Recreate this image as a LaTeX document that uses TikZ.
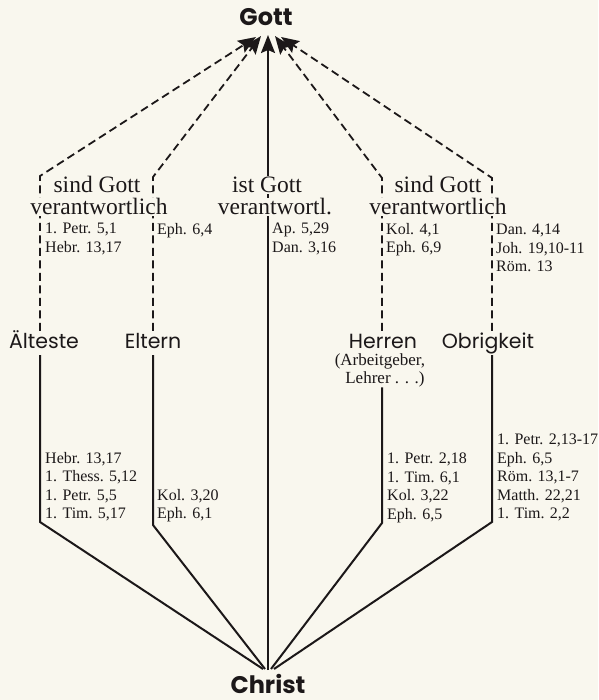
\documentclass[tikz,border=0pt]{standalone}
\usepackage{fontspec}
\setmainfont{Liberation Serif}
\newfontfamily\futura{Poppins}
\usetikzlibrary{arrows.meta,positioning}

\definecolor{paper}{HTML}{F9F7EE}
\definecolor{ink}{HTML}{1C1819}

\begin{document}
\begin{tikzpicture}
			[x=1pt, y=-1pt,
			pole/.style={font=\futura\bfseries\fontsize{24}{28}\selectfont, text=ink, inner sep=0pt},
			group/.style={font=\futura\fontsize{20.5}{23}\selectfont, text=ink, anchor=base, text height=14pt, text depth=4pt, inner xsep=1pt, inner ysep=3pt},
			note/.style={font=\fontsize{17}{19}\selectfont, text=ink, anchor=base, inner sep=0.5pt},
			duty/.style={font=\fontsize{23.5}{26}\selectfont, text=ink, anchor=base, inner sep=1pt},
			gap/.style={duty, fill=paper},
			refs/.style={font=\fontsize{16}{18.5}\selectfont, text=ink, align=left, anchor=north west, inner sep=0pt},
			head/.style={-{Stealth[length=18pt,width=14pt,inset=3pt]}},
			upline/.style={draw=ink, line width=1.8pt, dash pattern=on 8pt off 4.5pt, head},
			downline/.style={draw=ink, line width=2pt},]
          	\fill[paper] (0,0) rectangle (598,700);
          	\useasboundingbox (0,0) rectangle (598,700);

          	\node[pole] (Gott) at (266,17) {Gott};
          	\node[pole] (Christ) at (268,684) {Christ};

          	\node[group] (Aelteste) at (44,348) {Älteste};
          	\node[group] (Eltern) at (153,348) {Eltern};
          	\node[group, text height=16pt, text depth=0pt, inner ysep=1pt] (Herren) at (383,348) {Herren};
          	\node[note] (Arbeit) at (380,365) {(Arbeitgeber,};
          	\node[note] (Lehrer) at (385,383) {Lehrer . . .)};
          	\node[group] (Obrigkeit) at (488,348) {Obrigkeit};

          	% Knicke und Spitzen
          	\coordinate (k1) at (40,176); \coordinate (b1) at (40,522);
          	\coordinate (k2) at (153,177); \coordinate (b2) at (153,525);
          	\coordinate (k4) at (382,178); \coordinate (b4) at (382,523);
          	\coordinate (k5) at (492,178); \coordinate (b5) at (492,522);
          	\coordinate (g1) at (256,37); \coordinate (g2) at (261,36);
          	\coordinate (g3) at (268,35);
          	\coordinate (g4) at (275,36); \coordinate (g5) at (281,37);
          	\coordinate (h1) at (263,669); \coordinate (h2) at (265,669);
          	\coordinate (h3) at (268,670);
          	\coordinate (h4) at (271,669); \coordinate (h5) at (274,669);

          	\draw[upline] (Aelteste.north -| k1) -- (k1) -- (g1);
          	\draw[upline] (Eltern.north -| k2) -- (k2) -- (g2);
          	\draw[upline] (Herren.north -| k4) -- (k4) -- (g4);
          	\draw[upline] (Obrigkeit.north -| k5) -- (k5) -- (g5);
          	\draw[downline, head] (h3) -- (g3);

          	\draw[downline] (Aelteste.south -| b1) -- (b1) -- (h1);
          	\draw[downline] (Eltern.south -| b2) -- (b2) -- (h2);
          	\draw[downline] (Lehrer.south -| b4) -- (b4) -- (h4);
          	\draw[downline] (Obrigkeit.south -| b5) -- (b5) -- (h5);

          	% Verantwortung
          	\node[duty] (sind1) at (97,193) {sind Gott};
          	\node[gap] (ver1) at (99,215) {verantwortlich};
          	\node[gap] (ist) at (267,193) {ist Gott};
          	\node[gap] (ver3) at (275,215) {verantwortl.};
          	\node[duty] (sind2) at (438,193) {sind Gott};
          	\node[gap] (ver2) at (438,215) {verantwortlich};

          	% Bibelstellen
          	\node[refs] (r1) at (45,223) {1. Petr. 5,1\\Hebr. 13,17};
          	\node[refs] (r2) at (157,223) {Eph. 6,4};
          	\node[refs] (r3) at (272,223) {Ap. 5,29\\Dan. 3,16};
          	\node[refs] (r4) at (386,223) {Kol. 4,1\\Eph. 6,9};
          	\node[refs] (r5) at (496,224) {Dan. 4,14\\Joh. 19,10-11\\Röm. 13};
          	\node[refs] (s1) at (45,452) {Hebr. 13,17\\1. Thess. 5,12\\1. Petr. 5,5\\1. Tim. 5,17};
          	\node[refs] (s2) at (157,489) {Kol. 3,20\\Eph. 6,1};
          	\node[refs] (s4) at (387,453) {1. Petr. 2,18\\1. Tim. 6,1\\Kol. 3,22\\Eph. 6,5};
          	\node[refs] (s5) at (497,434) {1. Petr. 2,13-17\\Eph. 6,5\\Röm. 13,1-7\\Matth. 22,21\\1. Tim. 2,2};
			\end{tikzpicture}
\end{document}
